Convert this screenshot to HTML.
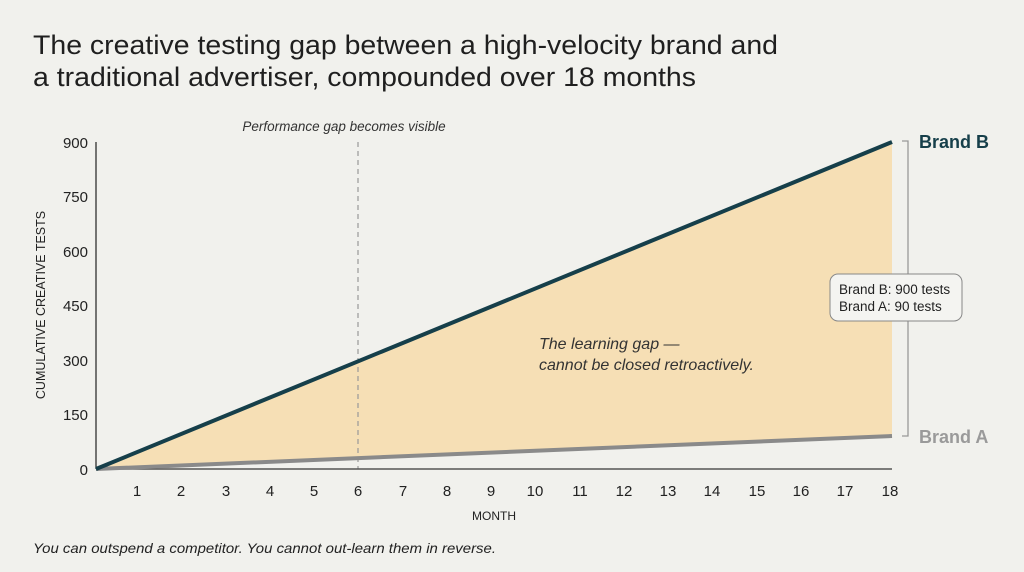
<!DOCTYPE html>
<html><head><meta charset="utf-8"><style>
body{margin:0;background:#f1f1ed;}
svg{display:block;font-family:"Liberation Sans",sans-serif;}
</style></head><body>
<svg width="1024" height="572" viewBox="0 0 1024 572">
<rect width="1024" height="572" fill="#f1f1ed"/>
<text x="33" y="54" font-size="27" fill="#1f1f1f" textLength="745" lengthAdjust="spacingAndGlyphs">The creative testing gap between a high-velocity brand and</text>
<text x="33" y="86" font-size="27" fill="#1f1f1f" textLength="663" lengthAdjust="spacingAndGlyphs">a traditional advertiser, compounded over 18 months</text>
<polygon points="96,469 892,142 892,436" fill="#f6dfb5"/>
<line x1="358" y1="142" x2="358" y2="469" stroke="#999" stroke-width="1.2" stroke-dasharray="5,4"/>
<text x="344" y="131" font-size="13.5" font-style="italic" text-anchor="middle" fill="#333">Performance gap becomes visible</text>
<line x1="96" y1="142" x2="96" y2="469" stroke="#222" stroke-width="1.2"/>
<line x1="96" y1="469" x2="892" y2="469" stroke="#555" stroke-width="1.5"/>
<line x1="96" y1="469" x2="892" y2="436" stroke="#8a8a8a" stroke-width="4"/>
<line x1="96" y1="469" x2="892" y2="142" stroke="#163f4a" stroke-width="4"/>
<g font-size="15" fill="#222" text-anchor="end">
<text x="88" y="475">0</text><text x="88" y="420">150</text><text x="88" y="366">300</text>
<text x="88" y="311">450</text><text x="88" y="257">600</text><text x="88" y="202">750</text><text x="88" y="148">900</text>
</g>
<g font-size="15" fill="#222" text-anchor="middle">
<text x="137" y="496">1</text><text x="181" y="496">2</text><text x="226" y="496">3</text><text x="270" y="496">4</text>
<text x="314" y="496">5</text><text x="358" y="496">6</text><text x="403" y="496">7</text><text x="447" y="496">8</text>
<text x="491" y="496">9</text><text x="535" y="496">10</text><text x="580" y="496">11</text><text x="624" y="496">12</text>
<text x="668" y="496">13</text><text x="712" y="496">14</text><text x="757" y="496">15</text><text x="801" y="496">16</text>
<text x="845" y="496">17</text><text x="890" y="496">18</text>
</g>
<text x="494" y="520" font-size="12" fill="#222" text-anchor="middle">MONTH</text>
<text transform="translate(45,305) rotate(-90)" font-size="12.5" fill="#222" text-anchor="middle">CUMULATIVE CREATIVE TESTS</text>
<text x="539" y="349" font-size="16" font-style="italic" fill="#333">The learning gap —</text>
<text x="539" y="370" font-size="16" font-style="italic" fill="#333">cannot be closed retroactively.</text>
<path d="M902,141 H908 V436 H902" fill="none" stroke="#999" stroke-width="1.3"/>
<rect x="830" y="274" width="132" height="47" rx="8" fill="#f4f4f1" stroke="#888" stroke-width="1"/>
<text x="839" y="294" font-size="13.5" fill="#222">Brand B: 900 tests</text>
<text x="839" y="311" font-size="13.5" fill="#222">Brand A: 90 tests</text>
<text x="919" y="148" font-size="18" font-weight="bold" fill="#163f4a">Brand B</text>
<text x="919" y="443" font-size="18" font-weight="bold" fill="#9a9a9a">Brand A</text>
<text x="33" y="553" font-size="14" font-style="italic" fill="#222" textLength="463" lengthAdjust="spacingAndGlyphs">You can outspend a competitor. You cannot out-learn them in reverse.</text>
</svg>
</body></html>
